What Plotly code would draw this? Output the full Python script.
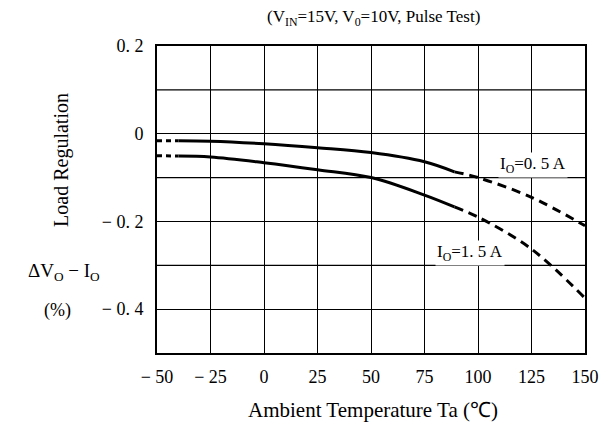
import plotly.graph_objects as go

# Data
temps = [-50, -40, -25, 0, 25, 50, 75, 89, 100, 125, 150]
reg_05A = [-0.016, -0.016, -0.017, -0.023, -0.032, -0.043, -0.064, -0.087, -0.100, -0.145, -0.210]
reg_15A = [-0.050, -0.051, -0.053, -0.066, -0.082, -0.100, -0.140, -0.167, -0.190, -0.263, -0.375]
solid_start, solid_end = 1, 7  # indices where measured (solid) part starts/ends

x_ticks = [-50, -25, 0, 25, 50, 75, 100, 125, 150]
x_ticktext = ["\u2212 50", "\u2212 25", "0", "25", "50", "75", "100", "125", "150"]
y_ticks = [0.2, 0, -0.2, -0.4]
y_ticktext = ["0. 2", "0", "\u2212 0. 2", "\u2212 0. 4"]
y_grid = [0.1, -0.1, -0.3]

FONT = "Liberation Serif"
fig = go.Figure()

for vals in (reg_05A, reg_15A):
    fig.add_trace(go.Scatter(x=temps[:solid_start + 1], y=vals[:solid_start + 1], mode="lines",
                             line=dict(color="black", width=3, dash="5px,4px"), showlegend=False))
    fig.add_trace(go.Scatter(x=temps[solid_start:solid_end + 1], y=vals[solid_start:solid_end + 1],
                             mode="lines", line=dict(color="black", width=3, shape="spline"),
                             showlegend=False))
    fig.add_trace(go.Scatter(x=temps[solid_end:], y=vals[solid_end:], mode="lines",
                             line=dict(color="black", width=3, dash="9px,6px", shape="spline"),
                             showlegend=False))

for gy in y_grid:
    fig.add_shape(type="line", xref="paper", x0=0, x1=1, yref="y", y0=gy, y1=gy,
                  line=dict(color="black", width=1.3), layer="below")

fig.add_annotation(x=125.7, y=-0.071, text="I<sub>O</sub>=0. 5 A", showarrow=False,
                   bgcolor="white", font=dict(family=FONT, size=17, color="black"))
fig.add_annotation(x=96.3, y=-0.272, text="I<sub>O</sub>=1. 5 A", showarrow=False,
                   bgcolor="white", font=dict(family=FONT, size=17, color="black"))

fig.add_annotation(xref="paper", yref="paper", x=0.505, y=1.0, yshift=28,
                   xanchor="center", yanchor="middle",
                   text="(V<sub>IN</sub>=15V, V<sub>0</sub>=10V, Pulse Test)", showarrow=False,
                   font=dict(family=FONT, size=17, color="black"))
fig.add_annotation(xref="paper", yref="paper", x=0.504, y=0, yshift=-57,
                   xanchor="center", yanchor="middle",
                   text="Ambient Temperature Ta (\u2103)", showarrow=False,
                   font=dict(family=FONT, size=21, color="black"))
fig.add_annotation(xref="paper", yref="paper", x=0, xshift=-95, y=0.629, textangle=-90,
                   xanchor="center", yanchor="middle",
                   text="Load Regulation", showarrow=False,
                   font=dict(family=FONT, size=20, color="black"))
fig.add_annotation(xref="paper", yref="paper", x=0, xshift=-93, y=0.264,
                   xanchor="center", yanchor="middle",
                   text="\u0394V<sub>O</sub> \u2212 I<sub>O</sub>", showarrow=False,
                   font=dict(family=FONT, size=19, color="black"))
fig.add_annotation(xref="paper", yref="paper", x=0, xshift=-100, y=0.14,
                   xanchor="center", yanchor="middle",
                   text="(%)", showarrow=False,
                   font=dict(family=FONT, size=18, color="black"))

fig.update_xaxes(range=[-50, 150], tickvals=x_ticks, ticktext=x_ticktext,
                 showgrid=True, gridcolor="black", gridwidth=1.3,
                 showline=True, linecolor="black", linewidth=2, mirror=True,
                 zeroline=False, ticks="", ticklabelstandoff=6,
                 tickfont=dict(family=FONT, size=18, color="black"))
fig.update_yaxes(range=[-0.5, 0.2], tickvals=y_ticks, ticktext=y_ticktext,
                 showgrid=True, gridcolor="black", gridwidth=1.3,
                 showline=True, linecolor="black", linewidth=2, mirror=True,
                 zeroline=False, ticks="", ticklabelstandoff=8,
                 tickfont=dict(family=FONT, size=18, color="black"))

# page has an 8px body margin, so the figure is 8px smaller and margins shifted
fig.update_layout(width=603, height=419, margin=dict(l=149, r=18, t=38, b=74),
                  plot_bgcolor="white", paper_bgcolor="white", showlegend=False)

fig.write_html("out.html")
